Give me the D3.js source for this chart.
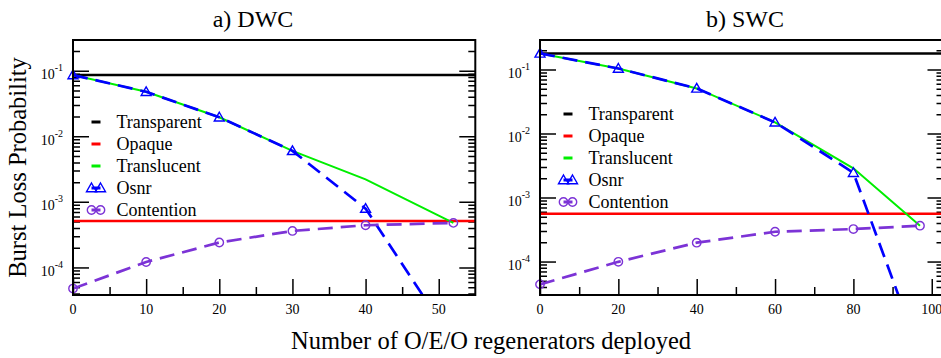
<!DOCTYPE html>
<html>
<head>
<meta charset="utf-8">
<script src="https://cdn.jsdelivr.net/npm/d3@7"></script>
<style>
  body { margin: 0; background: #fff; }
  svg { display: block; }
  svg text { font-family: "Liberation Serif", "Times New Roman", "DejaVu Serif", serif; }
</style>
</head>
<body>
<svg id="chart" width="941" height="358"></svg>
<script>
// values
const seriesNames = ["Transparent", "Opaque", "Translucent", "Osnr", "Contention"];

const dwcX = [0, 10, 20, 30, 40, 52];
const dwcFlatX = [0, 55];
const dwcTransparent = [0.086, 0.086];
const dwcOpaque = [5.13e-4, 5.13e-4];
const dwcTranslucent = [0.086, 0.0477, 0.0195, 0.006, 0.0022, 4.78e-4];
const dwcOsnr = [0.086, 0.0477, 0.0195, 0.006, 7.9e-4, 7.4e-6];
const dwcContention = [4.76e-5, 1.21e-4, 2.4e-4, 3.6e-4, 4.4e-4, 4.78e-4];
const dwcXTicks = [0, 10, 20, 30, 40, 50];

const swcX = [0, 20, 40, 60, 80, 97];
const swcFlatX = [0, 103];
const swcTransparent = [0.179, 0.179];
const swcOpaque = [5.58e-4, 5.58e-4];
const swcTranslucent = [0.179, 0.104, 0.0508, 0.015, 0.00286, 3.63e-4];
const swcOsnr = [0.179, 0.104, 0.0508, 0.015, 0.00244, 3.6e-6];
const swcContention = [4.4e-5, 9.9e-5, 1.97e-4, 2.92e-4, 3.22e-4, 3.63e-4];
const swcXTicks = [0, 20, 40, 60, 80, 100];

const yExponents = [-1, -2, -3, -4];

const colors = {
  Transparent: "#000000",
  Opaque: "#ff0000",
  Translucent: "#00ee00",
  Osnr: "#0000ff",
  Contention: "#7c33d6",
};

const svg = d3.select("#chart");
const plotTop = 40, plotBottom = 295;

function drawPanel(p) {
  const g = svg.append("g");
  const x = d3.scaleLinear().domain(p.xDomain).range([p.left, p.right]);
  const y = d3.scaleLog().domain(p.yDomain).range([plotBottom, plotTop]);

  const clipId = "clip-" + p.id;
  svg.append("clipPath").attr("id", clipId)
    .append("rect")
    .attr("x", p.left).attr("y", plotTop)
    .attr("width", p.right - p.left).attr("height", plotBottom - plotTop);

  // minor y ticks at 2..9 x 10^k
  const minorY = [];
  for (let k = -6; k <= 0; k++) {
    for (let m = 2; m <= 9; m++) {
      const v = m * Math.pow(10, k);
      if (v >= p.yDomain[0] && v <= p.yDomain[1]) minorY.push(v);
    }
  }
  const majorY = yExponents.map((e) => Math.pow(10, e));

  const axes = g.append("g").attr("clip-path", `url(#${clipId})`);
  const addAxis = (axis, tr) => {
    const a = axes.append("g").attr("transform", tr).call(axis);
    a.select(".domain").remove();
    a.selectAll("line").attr("stroke", "#000").attr("stroke-width", 1.5);
    return a;
  };
  addAxis(d3.axisLeft(y).tickValues(majorY).tickSize(-16).tickFormat(""), `translate(${p.left},0)`);
  addAxis(d3.axisLeft(y).tickValues(minorY).tickSize(-7).tickFormat(""), `translate(${p.left},0)`);
  addAxis(d3.axisRight(y).tickValues(majorY).tickSize(-16).tickFormat(""), `translate(${p.right},0)`);
  addAxis(d3.axisRight(y).tickValues(minorY).tickSize(-7).tickFormat(""), `translate(${p.right},0)`);

  const minorX = d3.range(p.xTicks.length - 1).map((i) => (p.xTicks[i] + p.xTicks[i + 1]) / 2);
  addAxis(d3.axisBottom(x).tickValues(p.xTicks).tickSize(-16).tickFormat(""), `translate(0,${plotBottom})`);
  addAxis(d3.axisBottom(x).tickValues(minorX).tickSize(-8).tickFormat(""), `translate(0,${plotBottom})`);

  // x tick labels
  g.selectAll(".xlab").data(p.xTicks).join("text")
    .attr("x", (d) => x(d))
    .attr("y", plotBottom + 19)
    .attr("text-anchor", "middle")
    .attr("font-size", 14)
    .text((d) => d);

  // y tick labels 10^k
  const yl = g.selectAll(".ylab").data(yExponents).join("text")
    .attr("x", p.left - 10)
    .attr("y", (d) => y(Math.pow(10, d)) + 8.6)
    .attr("text-anchor", "end")
    .attr("font-size", 14);
  yl.append("tspan").text("10");
  yl.append("tspan").attr("font-size", 10).attr("dy", -8.3).text((d) => "-" + Math.abs(d));

  const line = d3.line().x((d) => x(d[0])).y((d) => y(d[1]));
  const plot = g.append("g").attr("clip-path", `url(#${clipId})`);
  const zip = (xs, ys) => xs.map((v, i) => [v, ys[i]]);

  const series = [
    { name: "Transparent", pts: zip(p.flatX, p.transparent), w: 2.5 },
    { name: "Opaque", pts: zip(p.flatX, p.opaque), w: 2.5 },
    { name: "Translucent", pts: zip(p.xs, p.translucent), w: 2 },
    { name: "Osnr", pts: zip(p.xs, p.osnr), w: 2.7, dash: "15,8", marker: "tri" },
    { name: "Contention", pts: zip(p.xs, p.contention), w: 2.7, dash: "15,8", marker: "circ" },
  ];

  series.forEach((s) => {
    plot.append("path")
      .attr("d", line(s.pts))
      .attr("fill", "none")
      .attr("stroke", colors[s.name])
      .attr("stroke-width", s.w)
      .attr("stroke-dasharray", s.dash || null);
  });

  const triPath = "M0,-5L5,3.7L-5,3.7Z";
  const drawMarker = (sel, type, color) => {
    if (type === "tri") {
      sel.append("path").attr("d", triPath)
        .attr("fill", "none").attr("stroke", color).attr("stroke-width", 1.4);
    } else {
      sel.append("circle").attr("r", 4.2)
        .attr("fill", "none").attr("stroke", color).attr("stroke-width", 1.4);
    }
  };

  series.filter((s) => s.marker).forEach((s) => {
    s.pts.filter((d) => d[1] >= p.yDomain[0]).forEach((d) => {
      const m = g.append("g").attr("transform", `translate(${x(d[0])},${y(d[1])})`);
      drawMarker(m, s.marker, colors[s.name]);
    });
  });

  // frame
  g.append("rect")
    .attr("x", p.left).attr("y", plotTop)
    .attr("width", p.right - p.left).attr("height", plotBottom - plotTop)
    .attr("fill", "none").attr("stroke", "#000").attr("stroke-width", 2);

  // legend
  const lg = g.append("g");
  series.forEach((s, i) => {
    const ly = p.legendY + i * 22;
    const row = lg.append("g").attr("transform", `translate(${p.legendX},${ly})`);
    row.append("line")
      .attr("x1", -4.5).attr("x2", 4.5)
      .attr("stroke", colors[s.name]).attr("stroke-width", 3);
    if (s.marker) {
      [-4.5, 4.5].forEach((dx) => {
        const m = row.append("g").attr("transform", `translate(${dx},0)`);
        drawMarker(m, s.marker, colors[s.name]);
      });
    }
    row.append("text")
      .attr("x", 20.5).attr("y", 6)
      .attr("font-size", 18)
      .text(s.name);
  });

  // title
  svg.append("text")
    .attr("x", p.titleX).attr("y", 27)
    .attr("text-anchor", "middle")
    .attr("font-size", 24)
    .text(p.title);
}

drawPanel({
  id: "dwc", title: "a) DWC", titleX: 253,
  left: 73, right: 475.3,
  xDomain: [0, 55], yDomain: [3.8e-5, 0.294],
  xTicks: dwcXTicks, xs: dwcX, flatX: dwcFlatX,
  transparent: dwcTransparent, opaque: dwcOpaque,
  translucent: dwcTranslucent, osnr: dwcOsnr, contention: dwcContention,
  legendX: 96, legendY: 122,
});

drawPanel({
  id: "swc", title: "b) SWC", titleX: 745,
  left: 540, right: 943.5,
  xDomain: [0, 103], yDomain: [3e-5, 0.29],
  xTicks: swcXTicks, xs: swcX, flatX: swcFlatX,
  transparent: swcTransparent, opaque: swcOpaque,
  translucent: swcTranslucent, osnr: swcOsnr, contention: swcContention,
  legendX: 568, legendY: 114,
});

svg.append("text")
  .attr("transform", "translate(26,167.5) rotate(-90)")
  .attr("text-anchor", "middle")
  .attr("font-size", 24.5)
  .text("Burst Loss Probability");

svg.append("text")
  .attr("x", 491).attr("y", 349)
  .attr("text-anchor", "middle")
  .attr("font-size", 24.5)
  .text("Number of O/E/O regenerators deployed");
</script>
</body>
</html>
